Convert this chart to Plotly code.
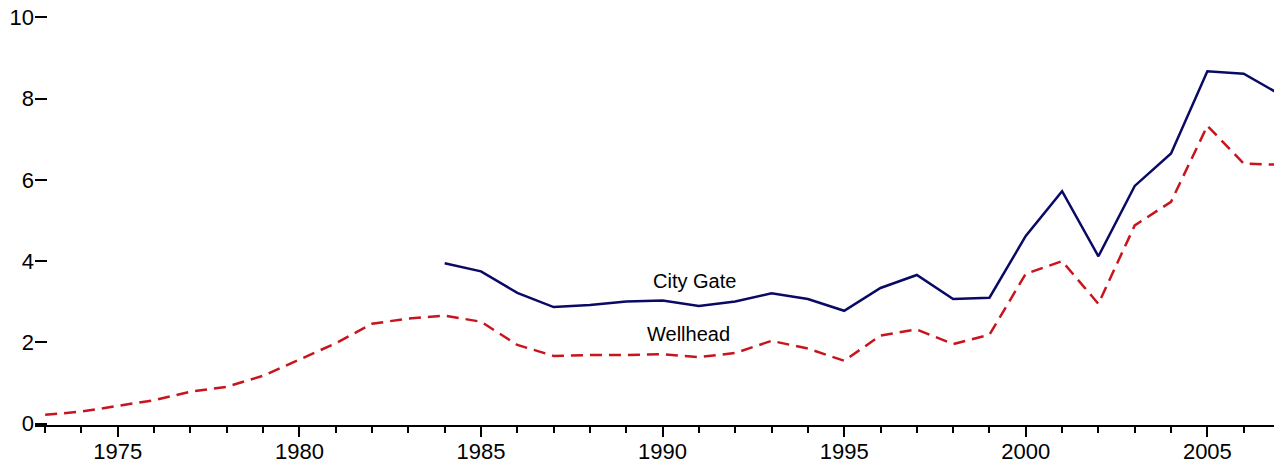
import plotly.graph_objects as go

years_wellhead = list(range(1973, 2008))
wellhead = [0.22, 0.30, 0.44, 0.58, 0.79, 0.91, 1.18, 1.59, 1.98, 2.46, 2.59, 2.66,
            2.51, 1.94, 1.67, 1.69, 1.69, 1.71, 1.64, 1.74, 2.04, 1.85, 1.55, 2.17,
            2.32, 1.96, 2.19, 3.69, 4.00, 2.95, 4.88, 5.46, 7.33, 6.40, 6.37]

years_city = list(range(1984, 2008))
city_gate = [3.95, 3.75, 3.22, 2.87, 2.92, 3.01, 3.03, 2.90, 3.01, 3.21, 3.07, 2.78,
             3.34, 3.66, 3.07, 3.10, 4.62, 5.72, 4.12, 5.85, 6.65, 8.67, 8.61, 8.10]

x_ticks = [1975, 1980, 1985, 1990, 1995, 2000, 2005]
y_ticks = [0, 2, 4, 6, 8, 10]

FONT = "Liberation Sans, Arial, sans-serif"

fig = go.Figure()
fig.add_trace(go.Scatter(x=years_wellhead, y=wellhead, mode="lines",
                         line=dict(color="#c8141c", width=2.5, dash="12px,7px"),
                         showlegend=False))
fig.add_trace(go.Scatter(x=years_city, y=city_gate, mode="lines",
                         line=dict(color="#0a0a66", width=2.5),
                         showlegend=False))

fig.add_annotation(x=1990.89, y=3.52, text="City Gate", showarrow=False,
                   font=dict(family=FONT, size=20, color="black"))
fig.add_annotation(x=1990.72, y=2.20, text="Wellhead", showarrow=False,
                   font=dict(family=FONT, size=20, color="black"))

# page body has an 8px margin; the figure is sized/offset to compensate
fig.update_layout(
    width=1274, height=459,
    margin=dict(l=27, r=2, t=8, b=42, autoexpand=False),
    paper_bgcolor="white", plot_bgcolor="white",
    font=dict(family=FONT, size=22, color="black"),
    xaxis=dict(range=[1972.72, 2007.0], tickvals=x_ticks, showgrid=False, zeroline=False,
               automargin=False, ticklabelstandoff=-4,
               showline=True, linecolor="black", linewidth=2,
               ticks="outside", ticklen=10, tickwidth=2, tickcolor="black",
               minor=dict(dtick=1, tick0=1973, ticks="outside", ticklen=6, tickwidth=2,
                          tickcolor="black", showgrid=False)),
    yaxis=dict(range=[-0.03, 10.03], tickvals=y_ticks, showgrid=False, zeroline=False,
               automargin=False, ticklabeloverflow="allow",
               showline=False, ticks="inside", ticklen=12, tickwidth=2,
               tickcolor="black"),
)

fig.write_html("out.html")
